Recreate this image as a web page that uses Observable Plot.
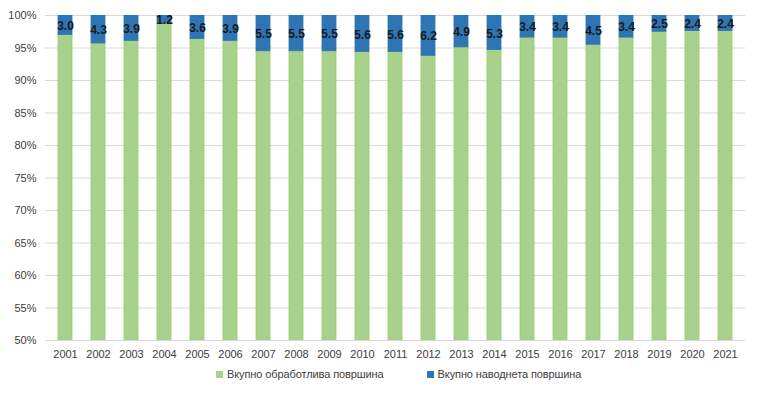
<!DOCTYPE html>
<html>
<head>
<meta charset="utf-8">
<script src="https://cdn.jsdelivr.net/npm/d3@7"></script>
<script src="https://cdn.jsdelivr.net/npm/@observablehq/plot@0.6"></script>
<style>
  html, body { margin: 0; padding: 0; background: #fff; }
  body { width: 763px; height: 393px; overflow: hidden; font-family: "Liberation Sans", Arial, sans-serif; }
  #legend { display: flex; justify-content: flex-start; font-size: 11px; color: #404040; margin-top: 6px; padding-left: 216px; letter-spacing: -0.1px; }
  #legend .item { display: flex; align-items: center; margin-right: 43px; }
  #legend .sw { width: 7px; height: 7px; margin-right: 4px; }
</style>
</head>
<body>
<div id="chart"></div>
<div id="legend"></div>
<script>
const years = ["2001","2002","2003","2004","2005","2006","2007","2008","2009","2010","2011","2012","2013","2014","2015","2016","2017","2018","2019","2020","2021"];
const irrigated = [3.0,4.3,3.9,1.2,3.6,3.9,5.5,5.5,5.5,5.6,5.6,6.2,4.9,5.3,3.4,3.4,4.5,3.4,2.5,2.4,2.4];
const cultivated = [97.0,95.7,96.1,98.8,96.4,96.1,94.5,94.5,94.5,94.4,94.4,93.8,95.1,94.7,96.6,96.6,95.5,96.6,97.5,97.6,97.6];
const seriesNames = ["Вкупно обработлива површина", "Вкупно наводнета површина"];
const colors = ["#A9D18E", "#2E75B6"];
const yTicks = [50,55,60,65,70,75,80,85,90,95,100];

const rows = [];
years.forEach((y, i) => {
  rows.push({year: y, series: seriesNames[0], value: cultivated[i], order: 0});
  rows.push({year: y, series: seriesNames[1], value: irrigated[i], order: 1});
});
const labelRows = years.map((y, i) => ({year: y, value: irrigated[i], mid: 100 - irrigated[i] / 2}));

const chart = Plot.plot({
  width: 763,
  height: 362,
  marginLeft: 45,
  marginRight: 18,
  marginTop: 15,
  marginBottom: 22,
  style: {fontFamily: "Liberation Sans, Arial, sans-serif", fontSize: "11px", color: "#404040"},
  x: {domain: years, paddingInner: 0.58, paddingOuter: 0.27, label: null, tickSize: 0, tickPadding: 10},
  y: {domain: [50, 100], ticks: yTicks, tickFormat: d => d + "%", label: null, tickSize: 0, tickPadding: 9},
  color: {domain: seriesNames, range: colors},
  marks: [
    Plot.gridY(yTicks, {stroke: "#d9d9d9", strokeOpacity: 1}),
    Plot.barY(rows, {x: "year", y: "value", fill: "series", order: seriesNames, clip: true,
      stroke: d => d.order === 0 ? "#92CF5E" : "#2E75B6", strokeWidth: 0.8, inset: 0}),
    Plot.text(labelRows, {x: "year", y: "mid", text: d => d.value.toFixed(1), fontWeight: "bold",
      fontSize: 12, fill: "#1a1a1a", dy: 1})
  ]
});
document.getElementById("chart").appendChild(chart);

const legend = document.getElementById("legend");
seriesNames.forEach((n, i) => {
  const it = document.createElement("div");
  it.className = "item";
  const sw = document.createElement("div");
  sw.className = "sw";
  sw.style.background = colors[i];
  const t = document.createElement("span");
  t.textContent = n;
  it.appendChild(sw); it.appendChild(t);
  legend.appendChild(it);
});
</script>
</body>
</html>
